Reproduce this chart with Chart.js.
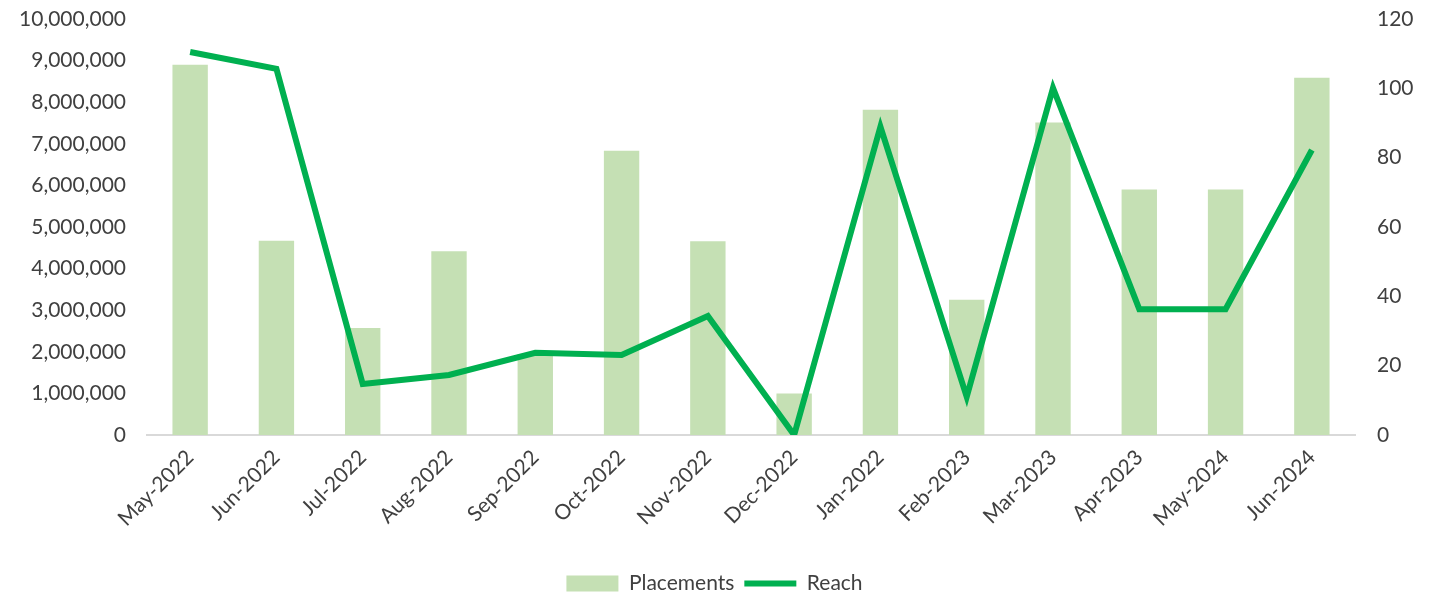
<!DOCTYPE html>
<html>
<head>
<meta charset="utf-8">
<script src="https://cdn.jsdelivr.net/npm/chart.js@4"></script>
<style>
  html, body { margin: 0; padding: 0; background: #fff; }
  #wrap { width: 1429px; height: 598px; }
</style>
</head>
<body>
<div id="wrap"><canvas id="chart"></canvas></div>
<script>
// data
const months = ["May-2022", "Jun-2022", "Jul-2022", "Aug-2022", "Sep-2022", "Oct-2022", "Nov-2022",
  "Dec-2022", "Jan-2022", "Feb-2023", "Mar-2023", "Apr-2023", "May-2024", "Jun-2024"];
const placements = [8900000, 4670000, 2570000, 4420000, 1950000, 6830000, 4660000,
  1000000, 7820000, 3250000, 7510000, 5900000, 5900000, 8590000];
const reach = [110.5, 105.6, 14.7, 17.3, 23.7, 23.1, 34.3, 0, 88.9, 11.0, 100.1, 36.3, 36.3, 82.2];

const fontFam = "Lato, 'Open Sans', sans-serif";
const textCol = "#404040";

new Chart(document.getElementById("chart"), {
  data: {
    labels: months,
    datasets: [
      {
        type: "line",
        label: "Reach",
        data: reach,
        yAxisID: "y2",
        borderColor: "#00B050",
        backgroundColor: "#00B050",
        borderWidth: 6,
        pointRadius: 0,
        pointStyle: "line",
        tension: 0,
        order: 0
      },
      {
        type: "bar",
        label: "Placements",
        data: placements,
        yAxisID: "y",
        backgroundColor: "#C5E0B4",
        pointStyle: "rect",
        categoryPercentage: 1,
        barPercentage: 0.41,
        order: 1
      }
    ]
  },
  options: {
    responsive: true,
    maintainAspectRatio: false,
    animation: false,
    layout: { padding: { top: 19, bottom: -6 } },
    plugins: {
      legend: {
        position: "bottom",
        reverse: true,
        labels: {
          usePointStyle: true,
          boxWidth: 52,
          boxHeight: 16,
          pointStyleWidth: 52,
          color: textCol,
          font: { family: fontFam, size: 21 },
          padding: 10
        }
      },
      tooltip: { enabled: false }
    },
    scales: {
      x: {
        grid: { display: false, drawTicks: false },
        border: { color: "#d9d9d9", width: 2 },
        afterFit: s => { s.height = 128; },
        ticks: {
          minRotation: 45,
          maxRotation: 45,
          autoSkip: false,
          padding: 10,
          color: textCol,
          font: { family: fontFam, size: 21 }
        }
      },
      y: {
        position: "left",
        min: 0,
        max: 10000000,
        // grid hidden; tickLength only used as the gap before the labels
        grid: { display: false, drawTicks: true, tickLength: 21 },
        border: { display: false },
        afterFit: s => { s.width = 147; },
        ticks: {
          stepSize: 1000000,
          padding: 0,
          color: textCol,
          font: { family: fontFam, size: 21 },
          callback: v => v.toLocaleString("en-US")
        }
      },
      y2: {
        position: "right",
        min: 0,
        max: 120,
        grid: { display: false, drawTicks: true, tickLength: 22 },
        border: { display: false },
        afterFit: s => { s.width = 74; },
        ticks: {
          stepSize: 20,
          padding: 0,
          color: textCol,
          font: { family: fontFam, size: 21 }
        }
      }
    }
  }
});
</script>
</body>
</html>
